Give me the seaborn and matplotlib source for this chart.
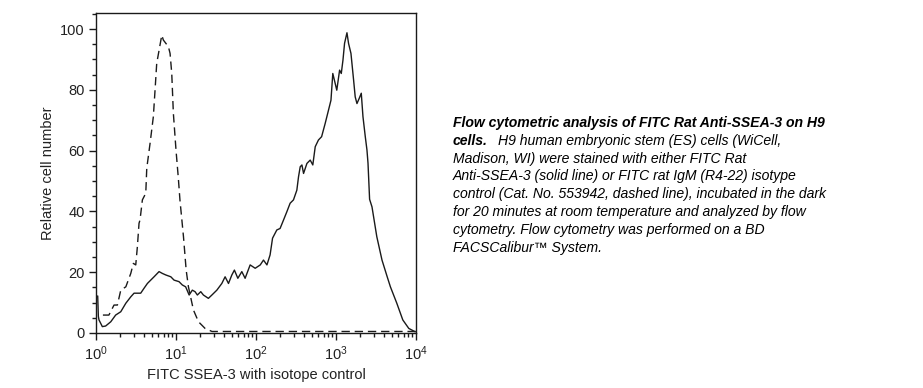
import numpy as np
import pandas as pd
import seaborn as sns
import matplotlib
matplotlib.use("Agg")
import matplotlib.pyplot as plt
from matplotlib.ticker import LogLocator, MultipleLocator, NullFormatter

# FITC SSEA-3 (solid line): intensity and relative cell number
solid_x = [1.05, 1.07, 1.09, 1.20, 1.32, 1.53, 1.76, 2.04, 2.36, 2.72, 2.99, 3.62, 3.98,
           4.39, 4.83, 5.32, 6.14, 6.76, 7.45, 8.61, 9.46, 10.9, 12.0, 13.2, 14.6, 16.0,
           17.3, 18.5, 20.4, 22.0, 25.4, 28.1, 32.4, 37.4, 41.1, 45.3, 49.9, 53.7, 59.3,
           66.5, 73.1, 84.5, 97.7, 113, 124, 137, 150, 161, 182, 200, 221, 243, 267, 294,
           324, 340, 357, 375, 393, 433, 476, 513, 550, 603, 661, 733, 807, 865, 912, 955,
           1023, 1109, 1164, 1222, 1279, 1371, 1435, 1538, 1660, 1738, 1828, 1950, 2070,
           2173, 2323, 2438, 2512, 2570, 2630, 2818, 3236, 3758, 4365, 4786, 5754, 6839,
           8128, 9772]
solid_y = [12.2, 5.5, 4.3, 2.1, 2.3, 3.7, 5.9, 7.0, 9.8, 11.9, 13.1, 13.1, 14.7,
           16.3, 17.4, 18.5, 20.2, 19.6, 19.1, 18.5, 17.4, 16.9, 15.8, 15.2, 12.5, 14.1,
           13.6, 12.5, 13.6, 12.5, 11.4, 12.5, 14.1, 16.3, 18.5, 16.3, 19.1, 20.7, 18.0,
           20.2, 18.0, 22.4, 21.3, 22.4, 24.0, 22.4, 25.7, 31.2, 33.9, 34.4, 37.2, 39.9, 42.7, 43.8,
           47.0, 51.4, 54.7, 55.3, 52.5, 55.8, 56.9, 55.3, 61.3, 63.5, 64.6, 69.0, 73.4, 76.6, 85.4, 83.2,
           79.9, 86.5, 85.4, 89.8, 95.3, 98.8, 95.3, 92.0, 83.2, 77.7, 75.5, 77.2, 78.9,
           71.2, 64.6, 60.2, 55.9, 50.0, 44.0, 41.5, 31.7, 24.0, 18.5, 15.2, 9.8, 4.3,
           1.5, 0.4]

# isotype control (dashed line)
iso_x = [1.22, 1.45, 1.68, 1.85, 2.04, 2.36, 2.72, 2.93, 3.14, 3.29, 3.45, 3.55, 3.80,
         4.19, 4.31, 4.74, 5.21, 5.47, 5.74, 6.64, 6.95, 8.04, 8.43, 8.85, 9.27, 10.0,
         10.7, 11.2, 12.4, 13.4, 14.3, 16.5, 19.1, 23.1, 28.2, 100, 1000, 10000]
iso_y = [5.9, 5.9, 9.2, 9.2, 14.1, 15.2, 19.6, 22.9, 22.4, 28.4, 36.1, 37.2, 43.8,
         46.0, 54.2, 62.4, 71.2, 79.9, 88.7, 98.0, 96.4, 94.2, 92.0, 85.4, 72.3, 60.2,
         50.9, 43.8, 31.7, 20.7, 15.2, 7.6, 3.7, 1.5, 0.5, 0.5, 0.5, 0.5]

caption_bold = "Flow cytometric analysis of FITC Rat Anti-SSEA-3 on H9"
caption_lines = [
    "H9 human embryonic stem (ES) cells (WiCell,",
    "Madison, WI) were stained with either FITC Rat",
    "Anti-SSEA-3 (solid line) or FITC rat IgM (R4-22) isotype",
    "control (Cat. No. 553942, dashed line), incubated in the dark",
    "for 20 minutes at room temperature and analyzed by flow",
    "cytometry. Flow cytometry was performed on a BD",
    "FACSCalibur\u2122 System.",
]

sns.set_style("white")
plt.rcParams['font.family'] = ['Liberation Sans', 'DejaVu Sans']
plt.rcParams['mathtext.fontset'] = 'custom'
plt.rcParams['mathtext.rm'] = 'Liberation Sans'
plt.rcParams['mathtext.it'] = 'Liberation Sans:italic'

W, H = 923, 388
fig = plt.figure(figsize=(W / 100, H / 100), dpi=100)
ax = fig.add_axes([96 / W, 1 - 333 / H, 320 / W, 320 / H])

solid = pd.DataFrame({"x": solid_x, "y": solid_y})
iso = pd.DataFrame({"x": iso_x, "y": iso_y})
ink = "#1a1a1a"
sns.lineplot(data=iso, x="x", y="y", ax=ax, estimator=None, sort=False,
             color=ink, lw=1.0, linestyle=(0, (6, 3.5)))
sns.lineplot(data=solid, x="x", y="y", ax=ax, estimator=None, sort=False,
             color=ink, lw=1.0)

ax.set_xscale("log")
ax.set_xlim(1, 1e4)
ax.set_ylim(0, 105.3)
ax.xaxis.set_major_locator(LogLocator(base=10, numticks=10))
ax.xaxis.set_minor_locator(LogLocator(base=10, subs=np.arange(2, 10), numticks=20))
ax.xaxis.set_minor_formatter(NullFormatter())
ax.yaxis.set_major_locator(MultipleLocator(20))
ax.yaxis.set_minor_locator(MultipleLocator(5))

for s in ax.spines.values():
    s.set_color(ink)
    s.set_linewidth(1.0)
ax.tick_params(which="both", direction="out", colors=ink, labelcolor="#222222",
               labelsize=10.5, bottom=True, left=True)
ax.tick_params(which="major", length=5, width=1.0, pad=3)
ax.tick_params(which="minor", length=2.8, width=1.0)

ax.set_xlabel("FITC SSEA-3 with isotope control", fontsize=10.5, color="#222222", labelpad=4)
ax.set_ylabel("Relative cell number", fontsize=10.5, color="#222222", labelpad=4)

# caption block
x0 = 453 / W
base0 = 126.7
step = 17.9
cap_size = 10.1
fig.text(x0, 1 - base0 / H, caption_bold, fontsize=cap_size, fontweight="bold",
         fontstyle="italic", va="baseline", ha="left", color="black")
t = fig.text(x0, 1 - (base0 + step) / H, "cells.", fontsize=cap_size, fontweight="bold",
             fontstyle="italic", va="baseline", ha="left", color="black")
fig.canvas.draw()
bb = t.get_window_extent()
fig.text((bb.x1 + 10) / W, 1 - (base0 + step) / H, caption_lines[0], fontsize=cap_size,
         fontstyle="italic", va="baseline", ha="left", color="black")
for i, line in enumerate(caption_lines[1:], start=2):
    fig.text(x0, 1 - (base0 + step * i) / H, line, fontsize=cap_size,
             fontstyle="italic", va="baseline", ha="left", color="black")

fig.savefig("out.png", dpi=100)
